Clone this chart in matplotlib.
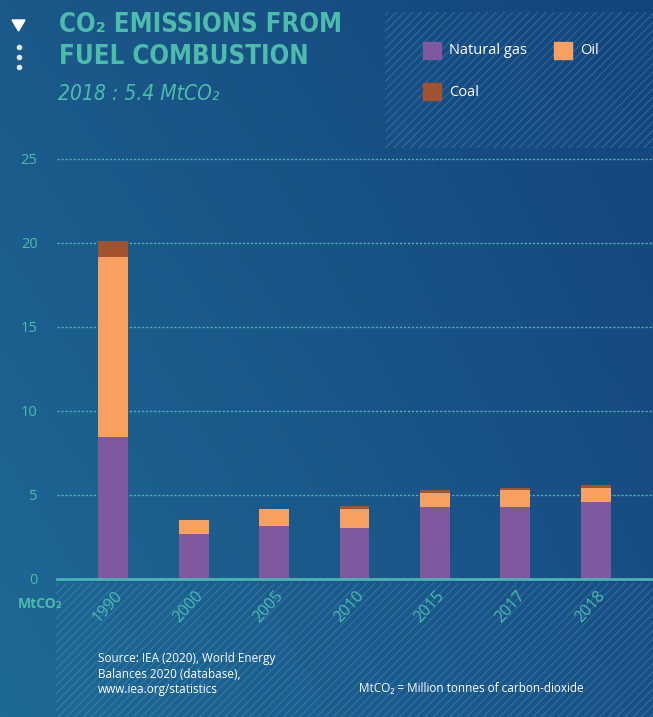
import numpy as np
import matplotlib
matplotlib.use('Agg')
import matplotlib.pyplot as plt
from matplotlib import font_manager as fm
from matplotlib.patches import Rectangle, Polygon
from matplotlib.transforms import offset_copy

years = ['1990', '2000', '2005', '2010', '2015', '2017', '2018']
natural_gas = [8.43, 2.66, 3.13, 3.02, 4.27, 4.27, 4.57]
oil = [10.72, 0.83, 1.01, 1.12, 0.83, 1.01, 0.83]
coal = [0.95, 0.0, 0.0, 0.19, 0.18, 0.12, 0.18]
yticks = [0, 5, 10, 15, 20, 25]

c_gas = '#7f59a0'
c_oil = '#f7a05f'
c_coal = '#a0532e'
teal = '#4dbcab'
teal_axis = '#4ab5b2'

plt.rcParams['hatch.linewidth'] = 0.8
body = ['Open Sans', 'DejaVu Sans']


def find_font(keys):
    for f in fm.fontManager.ttflist:
        name = f.fname.split('/')[-1]
        if name in keys:
            return f.fname
    return None


cond_bold = find_font(['LiberationSansNarrow-Bold.ttf', 'DejaVuSansCondensed-Bold.ttf'])
cond_ital = find_font(['LiberationSansNarrow-Italic.ttf', 'DejaVuSansCondensed-Oblique.ttf'])

W, H = 653, 717
fig = plt.figure(figsize=(W / 100, H / 100), dpi=100)

# background gradient
bg = fig.add_axes([0, 0, 1, 1], zorder=-10)
bg.set_xlim(0, W)
bg.set_ylim(H, 0)
bg.axis('off')
tl = np.array([0x1a, 0x59, 0x8a]) / 255
tr = np.array([0x14, 0x44, 0x7c]) / 255
bl = np.array([0x1e, 0x6a, 0x96]) / 255
br = np.array([0x19, 0x50, 0x86]) / 255
u = np.linspace(0, 1, 80)[None, :, None]
v = np.linspace(0, 1, 80)[:, None, None]
img = (1 - v) * ((1 - u) * tl + u * tr) + v * ((1 - u) * bl + u * br)
bg.imshow(img, extent=[0, W, H, 0], aspect='auto', interpolation='bilinear')

# hatched panels
bg.add_patch(Rectangle((385, 12), W - 385, 136, facecolor='none',
                       edgecolor='#5ea8cc', hatch='////', lw=0, alpha=0.35))
bg.add_patch(Rectangle((56, 583), W - 56, H - 583, facecolor='none',
                       edgecolor='#5ea8cc', hatch='////', lw=0, alpha=0.35))

# marker icons
bg.add_patch(Polygon([[12, 20], [25, 20], [18.5, 31]], closed=True, color='white'))
for yy in [47, 57, 67]:
    bg.plot(18.5, yy, 'o', color='#dde6ee', ms=3.0)

# title and subtitle
if cond_bold:
    tkw = dict(fontproperties=fm.FontProperties(fname=cond_bold, size=18.5))
else:
    tkw = dict(fontsize=19.5, fontweight='bold', family=['Roboto', 'DejaVu Sans'])
bg.text(59, 12, 'CO₂ EMISSIONS FROM\nFUEL COMBUSTION', color=teal,
        va='top', ha='left', linespacing=1.3, **tkw)
if cond_ital:
    skw = dict(fontproperties=fm.FontProperties(fname=cond_ital, size=15))
else:
    skw = dict(fontsize=14, style='italic', fontweight='light', family=['Roboto', 'DejaVu Sans'])
bg.text(58, 84, '2018 : 5.4 MtCO₂', color=teal, va='top', ha='left', **skw)

# legend
leg = [('Natural gas', c_gas, 423, 42), ('Oil', c_oil, 554, 42), ('Coal', c_coal, 423, 83)]
for name, col, lx, ly in leg:
    bg.add_patch(Rectangle((lx, ly), 18, 17, color=col))
    bg.text(lx + 26, ly + 9, name, color='white', fontsize=10.5, family=body,
            va='center', ha='left')

# notes
bg.text(18, 604, 'MtCO₂', color=teal, fontsize=10, fontweight='bold', family=body,
        va='center', ha='left')
bg.text(98, 652, 'Source: IEA (2020), World Energy\nBalances 2020 (database),\nwww.iea.org/statistics',
        color='white', fontsize=8.5, family=body, va='top', ha='left', linespacing=1.25)
bg.text(359, 689, 'MtCO₂ = Million tonnes of carbon-dioxide', color='white',
        fontsize=8.5, family=body, va='center', ha='left')

# main chart
ax = fig.add_axes([57 / W, (H - 578.7) / H, (652 - 57) / W, (578.7 - 154) / H])
ax.patch.set_alpha(0)
x = np.arange(len(years))
bw = 0.37
ax.bar(x, natural_gas, bw, color=c_gas, zorder=3)
ax.bar(x, oil, bw, bottom=natural_gas, color=c_oil, zorder=3)
ax.bar(x, coal, bw, bottom=np.array(natural_gas) + np.array(oil), color=c_coal, zorder=3)
ax.set_xlim(-0.7, 6.7)
ax.set_ylim(0, 25.28)

for s in ['top', 'right', 'left']:
    ax.spines[s].set_visible(False)
ax.spines['bottom'].set_color(teal_axis)
ax.spines['bottom'].set_linewidth(2)
ax.spines['bottom'].set_zorder(4)

for t in yticks[1:]:
    ax.axhline(t, color=teal_axis, lw=1.0, ls=(0, (1.6, 1.3)), zorder=1)

ax.set_yticks(yticks)
ax.tick_params(axis='y', length=0, pad=14, labelcolor=teal, labelsize=10.5)
for lab in ax.get_yticklabels():
    lab.set_family(body)
ax.set_xticks([])

tr_lab = offset_copy(ax.transData, fig=fig, x=1, y=-9, units='dots')
for xi, yr in zip(x, years):
    ax.text(xi, 0, yr, transform=tr_lab, rotation=48, rotation_mode='anchor',
            ha='right', va='top', color=teal, fontsize=11.5, family=body,
            clip_on=False, zorder=5)

fig.savefig('out.png', dpi=100)
